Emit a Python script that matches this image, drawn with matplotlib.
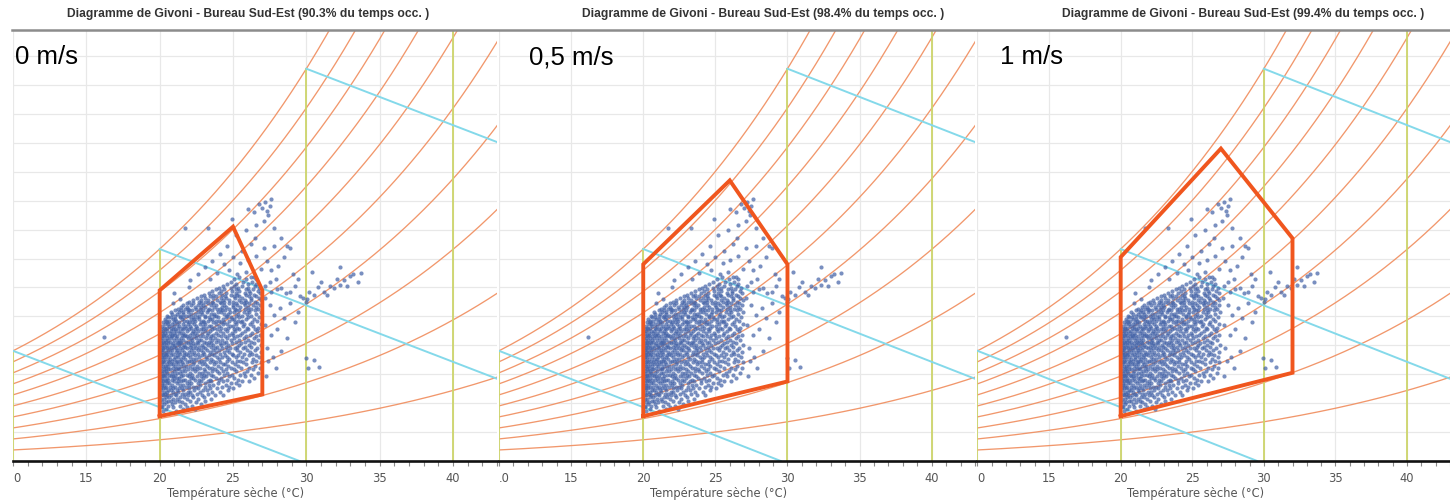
import numpy as np
import matplotlib
matplotlib.use("Agg")
import matplotlib.pyplot as plt
import matplotlib.transforms as mtransforms
from matplotlib.lines import Line2D

# ---------------------------------------------------------------- data
panel_titles = [
    "Diagramme de Givoni - Bureau Sud-Est (90.3% du temps occ. )",
    "Diagramme de Givoni - Bureau Sud-Est (98.4% du temps occ. )",
    "Diagramme de Givoni - Bureau Sud-Est (99.4% du temps occ. )",
]
speed_labels = ["0 m/s", "0,5 m/s", "1 m/s"]
x_ticks = [10, 15, 20, 25, 30, 35, 40]
x_tick_labels = [
    ["0", "15", "20", "25", "30", "35", "40"],
    [".0", "15", "20", "25", "30", "35", "40"],
    ["0", "15", "20", "25", "30", "35", "40"],
]
x_label = "Température sèche (°C)"

rh_levels = [10, 20, 30, 40, 50, 60, 70, 80, 90, 100]        # % humidité relative
dry_bulb_marks = [10, 20, 30, 40]                              # verticales jaunes (°C)
wet_bulb_starts = [10, 20, 30]                                 # départ sur la saturation (°C)
wet_bulb_slope = 0.39                                          # g/kg par °C

# zones de confort (T °C, w g/kg) pour 0 / 0,5 / 1 m/s
zone_t = [
    [20, 20, 25, 27, 27, 20],
    [20, 20, 26, 30, 30, 20],
    [20, 20, 27, 32, 32, 20],
]
zone_w = [
    [3.1, 11.8, 16.2, 11.8, 4.6, 3.1],
    [3.1, 13.6, 19.4, 13.6, 5.5, 3.1],
    [3.1, 14.1, 21.6, 15.4, 6.1, 3.1],
]

# heures d'occupation : humidité absolue (g/kg) puis températures sèches (°C)
core_rows = [
    (3.45, [20.2, 21.1]),
    (3.58, [20.45, 21.6, 22.4]),
    (3.70, [20.14, 20.9, 21.85]),
    (3.82, [20.12, 20.55, 21.38, 22.2]),
    (3.94, [20.31, 20.83, 21.71, 22.79]),
    (4.06, [20.16, 20.4, 21.05, 21.52, 22.47]),
    (4.18, [20.58, 20.74, 21.33, 22.05, 23.1]),
    (4.30, [20.1, 20.29, 20.92, 21.2, 21.86, 22.63, 23.49]),
    (4.42, [20.44, 20.66, 21.41, 21.63, 22.3, 23.05]),
    (4.54, [20.2, 20.51, 20.79, 21.1, 21.95, 22.18, 22.87, 23.76, 24.3]),
    (4.66, [20.13, 20.37, 21.02, 21.49, 21.72, 22.52, 23.31]),
    (4.78, [20.27, 20.48, 20.88, 21.25, 21.91, 22.09, 22.74, 23.58, 24.12]),
    (4.90, [20.1, 20.6, 20.75, 21.18, 21.59, 22.36, 22.98, 23.23, 24.66]),
    (5.02, [20.22, 20.34, 20.92, 21.3, 21.5, 22.03, 22.61, 23.44, 23.9, 25.03]),
    (5.14, [20.11, 20.46, 20.7, 21.07, 21.77, 22.25, 22.49, 23.12, 24.28, 24.71]),
    (5.26, [20.18, 20.3, 20.85, 21.38, 21.6, 21.99, 22.72, 23.35, 23.67, 24.49, 25.41]),
    (5.38, [20.14, 20.53, 20.67, 21.15, 21.84, 22.14, 22.58, 23.07, 23.98, 24.87, 25.2]),
    (5.50, [20.25, 20.41, 20.99, 21.27, 21.46, 22.01, 22.85, 23.27, 23.53, 24.35, 25.62, 26.08]),
    (5.62, [20.12, 20.36, 20.58, 20.82, 21.56, 21.73, 22.4, 22.66, 23.41, 24.02, 24.57, 25.35]),
    (5.74, [20.19, 20.47, 20.95, 21.18, 21.35, 22.12, 22.3, 22.94, 23.82, 24.18, 25.09, 26.44]),
    (5.86, [20.1, 20.29, 20.74, 20.88, 21.43, 21.97, 22.55, 22.79, 23.16, 23.66, 24.75, 25.81]),
    (5.98, [20.23, 20.38, 20.62, 21.07, 21.62, 21.84, 22.2, 23.03, 23.49, 24.41, 24.93, 25.5, 26.21]),
    (6.10, [20.15, 20.52, 20.83, 21.21, 21.39, 22.06, 22.67, 22.88, 23.3, 24.07, 24.6, 25.74, 26.7]),
    (6.22, [20.11, 20.31, 20.45, 20.96, 21.55, 21.76, 22.42, 23.12, 23.6, 23.89, 24.33, 25.22, 25.98]),
    (6.34, [20.27, 20.58, 20.71, 21.13, 21.32, 21.93, 22.18, 22.57, 22.99, 23.78, 24.52, 25.06, 26.35]),
    (6.46, [20.12, 20.4, 20.91, 21.28, 21.67, 22.31, 22.76, 23.38, 23.56, 24.19, 24.88, 25.57, 26.11, 26.82]),
    (6.58, [20.2, 20.35, 20.6, 21.04, 21.46, 21.8, 22.05, 22.53, 23.21, 23.99, 24.66, 25.33, 26.52]),
    (6.70, [20.1, 20.49, 20.78, 20.94, 21.24, 21.61, 22.24, 22.92, 23.09, 23.71, 24.3, 24.47, 25.14, 25.88]),
    (6.82, [20.16, 20.3, 20.66, 21.11, 21.53, 21.87, 22.37, 22.65, 23.45, 23.84, 24.1, 24.94, 25.69, 26.27, 26.9]),
    (6.94, [20.23, 20.55, 20.87, 21.2, 21.36, 21.98, 22.15, 22.81, 23.02, 23.63, 24.56, 25.28, 25.45, 26.6]),
    (7.06, [20.1, 20.39, 20.73, 20.98, 21.44, 21.71, 22.29, 22.5, 23.26, 23.5, 24.04, 24.76, 25.91, 26.36]),
    (7.18, [20.14, 20.28, 20.6, 21.03, 21.27, 21.58, 22.09, 22.7, 23.13, 23.94, 24.23, 24.62, 25.19, 25.63, 26.77]),
    (7.30, [20.21, 20.46, 20.8, 21.15, 21.64, 21.91, 22.43, 22.86, 23.37, 23.73, 24.45, 25.02, 25.37, 26.09, 26.55]),
    (7.42, [20.11, 20.33, 20.52, 20.93, 21.4, 21.78, 22.2, 22.58, 23.05, 23.56, 24.14, 24.91, 25.74, 26.3]),
    (7.54, [20.18, 20.43, 20.69, 21.08, 21.29, 21.69, 22.01, 22.33, 22.96, 23.44, 23.82, 24.36, 24.7, 25.5, 26.19, 26.88]),
    (7.66, [20.1, 20.26, 20.57, 20.85, 21.2, 21.51, 22.13, 22.62, 22.79, 23.2, 23.65, 24.03, 24.59, 25.27, 25.98, 26.47]),
    (7.78, [20.22, 20.5, 20.77, 21.12, 21.37, 21.88, 22.25, 22.47, 23.1, 23.74, 24.27, 24.82, 25.11, 25.66, 26.64]),
    (7.90, [20.13, 20.36, 20.63, 20.99, 21.57, 21.74, 22.05, 22.71, 22.94, 23.52, 23.93, 24.5, 25.3, 25.79, 26.23]),
    (8.02, [20.19, 20.41, 20.82, 21.05, 21.32, 21.63, 22.17, 22.4, 22.86, 23.29, 23.67, 24.15, 24.68, 25.43, 26.06, 26.93]),
    (8.14, [20.1, 20.28, 20.55, 20.9, 21.23, 21.47, 21.95, 22.29, 22.61, 23.16, 23.48, 24.08, 24.39, 24.95, 25.57, 26.4]),
    (8.26, [20.24, 20.46, 20.7, 21.15, 21.39, 21.81, 22.09, 22.52, 23.03, 23.35, 23.87, 24.54, 25.19, 25.84, 26.21]),
    (8.38, [20.12, 20.34, 20.6, 20.97, 21.29, 21.58, 22.22, 22.68, 22.84, 23.58, 23.99, 24.28, 24.86, 25.38, 26.03, 26.7]),
    (8.50, [20.17, 20.5, 20.76, 21.09, 21.45, 21.92, 22.14, 22.47, 23.13, 23.42, 23.78, 24.61, 25.06, 25.72, 26.45]),
    (8.62, [20.1, 20.31, 20.64, 20.86, 21.2, 21.66, 21.84, 22.34, 22.76, 22.97, 23.5, 24.17, 24.44, 25.26, 25.91, 26.58]),
    (8.74, [20.26, 20.43, 20.81, 21.03, 21.52, 21.74, 22.04, 22.56, 23.22, 23.66, 24.0, 24.73, 24.99, 25.5, 26.14, 26.86]),
    (8.86, [20.14, 20.37, 20.68, 20.95, 21.34, 21.6, 22.19, 22.42, 22.89, 23.31, 23.83, 24.34, 24.9, 25.62, 26.28]),
    (8.98, [20.21, 20.52, 20.74, 21.14, 21.42, 21.89, 22.28, 22.63, 23.07, 23.46, 24.11, 24.56, 25.17, 25.81, 26.66]),
    (9.10, [20.11, 20.33, 20.9, 21.06, 21.57, 21.97, 22.39, 22.81, 22.98, 23.6, 23.91, 24.48, 25.08, 25.43, 26.02, 26.5]),
    (9.22, [20.28, 20.47, 20.79, 21.23, 21.49, 21.78, 22.13, 22.55, 23.19, 23.72, 24.2, 24.63, 25.29, 25.96, 26.73]),
    (9.34, [20.16, 20.62, 20.96, 21.35, 21.7, 22.06, 22.48, 22.93, 23.34, 23.53, 24.07, 24.79, 25.01, 25.69, 26.36]),
    (9.46, [20.39, 20.55, 20.84, 21.17, 21.61, 21.92, 22.31, 22.72, 23.11, 23.84, 24.32, 24.58, 25.22, 25.77, 26.14, 26.89]),
    (9.58, [20.24, 20.49, 21.0, 21.31, 21.98, 22.2, 22.84, 23.03, 23.66, 24.21, 24.4, 25.12, 25.55, 26.27]),
    (9.70, [20.46, 20.67, 21.14, 21.68, 21.85, 22.44, 22.97, 23.27, 23.85, 24.03, 24.71, 25.36, 25.61, 26.61]),
    (9.82, [20.35, 20.88, 21.07, 21.53, 22.12, 22.35, 22.66, 23.43, 23.58, 24.29, 24.9, 25.1, 25.87, 26.44]),
    (9.94, [20.58, 20.79, 21.36, 21.6, 22.28, 22.54, 23.12, 23.39, 23.99, 24.55, 24.85, 25.43, 26.05, 26.8]),
    (10.06, [20.52, 21.07, 21.41, 21.8, 22.03, 22.7, 23.08, 23.69, 23.84, 24.57, 25.22, 25.63, 26.22]),
    (10.18, [20.83, 21.19, 21.61, 22.17, 22.41, 22.87, 23.5, 23.72, 24.36, 24.68, 25.32, 25.97, 26.58]),
    (10.30, [20.74, 21.32, 21.58, 21.93, 22.62, 22.81, 23.23, 23.95, 24.16, 24.79, 25.05, 25.72, 26.11, 26.93]),
    (10.42, [21.06, 21.44, 21.99, 22.22, 22.95, 23.3, 23.54, 24.25, 24.47, 25.23, 25.4, 26.0, 26.49]),
    (10.54, [21.22, 21.71, 21.93, 22.5, 22.78, 23.37, 23.93, 24.1, 24.75, 25.14, 25.81, 26.26, 26.71]),
    (10.66, [21.47, 21.84, 22.43, 22.82, 23.06, 23.68, 24.22, 24.54, 25.03, 25.5, 26.04, 26.59]),
    (10.78, [21.61, 22.14, 22.59, 22.96, 23.49, 23.81, 24.42, 24.98, 25.3, 25.82, 26.39, 26.87]),
    (10.90, [21.88, 22.3, 22.83, 23.29, 23.62, 24.2, 24.74, 25.19, 25.77, 26.09, 26.62]),
    (11.02, [22.03, 22.69, 23.07, 23.55, 24.11, 24.42, 24.98, 25.56, 25.9, 26.48]),
    (11.14, [22.29, 22.84, 23.31, 23.93, 24.35, 24.7, 25.38, 25.84, 26.24, 26.9]),
    (11.26, [22.55, 23.07, 23.64, 24.17, 24.51, 25.13, 25.62, 26.2, 26.74]),
    (11.38, [22.8, 23.46, 23.87, 24.44, 25.05, 25.41, 26.06, 26.57]),
    (11.50, [23.04, 23.61, 24.26, 24.88, 25.29, 25.91, 26.45]),
    (11.62, [23.33, 24.02, 24.5, 25.19, 25.82, 26.17, 26.84]),
    (11.74, [23.58, 24.2, 24.93, 25.42, 26.12, 26.68]),
    (11.86, [23.86, 24.41, 25.21, 25.86, 26.37]),
    (11.98, [24.07, 24.84, 25.36, 26.05, 26.77]),
    (12.10, [24.3, 25.08, 25.63, 26.48]),
    (12.25, [24.58, 25.22, 26.02, 26.6]),
    (12.40, [24.85, 25.7, 26.3]),
    (12.55, [25.1, 25.92, 26.55]),
    (12.70, [25.44, 26.2]),
]

# heures isolées (T °C, w g/kg)
sparse_points = [
    # partie haute, autour du sommet de la zone
    (21.7, 16.1), (23.3, 16.1), (24.9, 16.7), (26.0, 17.4), (26.4, 17.2),
    (26.8, 17.8), (27.0, 17.5), (27.2, 17.9), (27.35, 17.3), (27.5, 17.6),
    (27.4, 17.0), (27.6, 18.1), (27.1, 16.6), (26.6, 16.3), (25.6, 14.5),
    (26.5, 15.4), (27.1, 14.7), (27.8, 16.1), (27.8, 14.9), (28.3, 15.4),
    (28.7, 14.9), (28.9, 14.7), (25.2, 15.6), (24.6, 14.9), (24.1, 14.3),
    (23.6, 13.8), (23.1, 13.4), (25.9, 16.0), (26.2, 15.0), (24.4, 13.6),
    (25.0, 14.1), (25.5, 13.7), (26.0, 13.9), (26.6, 14.2), (23.9, 13.0),
    (24.7, 13.2), (25.3, 12.9), (25.9, 13.1), (26.4, 12.7), (26.9, 13.3),
    (22.6, 12.9), (22.1, 12.5), (23.4, 12.6), (27.3, 13.8), (27.6, 13.2),
    (28.1, 13.5), (28.5, 14.1), (27.9, 12.6), (27.5, 12.4), (27.2, 12.1),
    (21.4, 11.2), (20.9, 10.9), (21.0, 11.6), (22.0, 12.0),
    # traînée vers les températures élevées
    (27.6, 11.7), (28.0, 11.9), (28.3, 11.95), (28.6, 11.6), (28.9, 11.7),
    (29.2, 12.1), (29.4, 12.6), (29.6, 11.4), (29.8, 11.3), (30.0, 11.0),
    (30.05, 11.2), (30.2, 11.7), (30.5, 11.5), (30.8, 12.0), (31.0, 12.4),
    (31.2, 11.7), (31.4, 11.5), (31.6, 12.1), (31.9, 11.95), (32.1, 12.6),
    (32.3, 12.2), (32.3, 13.4), (32.6, 12.5), (32.8, 12.1), (33.0, 12.8),
    (33.2, 12.9), (33.5, 12.4), (33.7, 13.0), (29.1, 12.9), (30.4, 13.1),
    # à droite de la zone
    (27.5, 10.8), (27.8, 10.1), (27.6, 8.7), (28.3, 7.6), (28.7, 8.5),
    (29.2, 9.6), (29.4, 10.3), (27.4, 6.9), (27.2, 9.4), (27.3, 7.8),
    (28.0, 9.1), (28.2, 10.6), (27.9, 6.4), (27.25, 5.9), (28.5, 9.9),
    (27.7, 7.2), (29.95, 7.1), (30.5, 7.0), (30.85, 6.5), (30.1, 6.4),
    (27.15, 11.3), (28.9, 10.9),
    # isolée à gauche
    (16.2, 8.6),
]

# ---------------------------------------------------------------- style / mise en page
W_PX, H_PX = 1450, 503
PX_PER_DEG = 14.8
AX_BOTTOM_PX, AX_TOP_PX = 461, 30
W_TOP = 29.8
panel_left_px = [13, 499, 977.5]
panel_right_px = [497, 975, 1450]
title_center_px = [248, 763, 1243]
speed_left_px = [15, 529, 1000]

C_RH = "#f08c5c"
C_WB = "#84d9ea"
C_DB = "#cdd56a"
C_PTS = "#4564a8"
C_ZONE = "#f0561e"
C_GRID = "#e8e8e8"


def w_sat(t):
    es = 6.112 * np.exp(17.62 * t / (243.12 + t))
    return 622.0 * es / (1013.25 - es)


pts_t = [t for w, ts in core_rows for t in ts] + [p[0] for p in sparse_points]
pts_w = [w for w, ts in core_rows for t in ts] + [p[1] for p in sparse_points]

fig = plt.figure(figsize=(W_PX / 100, H_PX / 100), dpi=100)
fig.patch.set_facecolor("white")

t_curve = np.linspace(9.5, 44, 300)

for i in range(3):
    l, r = panel_left_px[i], panel_right_px[i]
    ax = fig.add_axes([l / W_PX, 1 - AX_BOTTOM_PX / H_PX,
                       (r - l) / W_PX, (AX_BOTTOM_PX - AX_TOP_PX) / H_PX])
    ax.set_xlim(10, 10 + (r - l) / PX_PER_DEG)
    ax.set_ylim(0, W_TOP)

    # grille
    ax.set_yticks(np.arange(2, 30, 2))
    ax.set_xticks(x_ticks)
    ax.set_xticks(np.arange(10, 44, 1), minor=True)
    ax.grid(True, which="major", color=C_GRID, lw=0.9, zorder=0)
    ax.set_axisbelow(True)
    ax.tick_params(axis="y", length=0, labelleft=False)
    ax.tick_params(axis="x", which="both", direction="out", length=3.5,
                   width=0.8, color="#8a8a8a", pad=4.5,
                   labelsize=8.3, labelcolor="#555555")
    ax.set_xticklabels(x_tick_labels[i])
    ax.get_xticklabels()[0].set_horizontalalignment("left")
    for side in ("left", "right", "top"):
        ax.spines[side].set_visible(False)
    ax.spines["bottom"].set_color("#111111")
    ax.spines["bottom"].set_linewidth(1.9)

    # courbes d'humidité relative
    ws = w_sat(t_curve)
    for rh in rh_levels:
        ax.plot(t_curve, ws * rh / 100.0, color=C_RH, lw=0.95, alpha=0.9, zorder=1)

    # verticales de température sèche
    for tdb in dry_bulb_marks:
        ax.plot([tdb, tdb], [0, min(w_sat(tdb), W_TOP)], color=C_DB, lw=1.3, zorder=2)

    # droites de température humide
    for t0 in wet_bulb_starts:
        tt = np.linspace(t0, 44, 50)
        ww = w_sat(t0) - wet_bulb_slope * (tt - t0)
        keep = ww >= 0
        tt, ww = tt[keep], ww[keep]
        t_end = t0 + w_sat(t0) / wet_bulb_slope
        if t_end < 44:
            tt = np.append(tt, t_end)
            ww = np.append(ww, 0)
        ax.plot(tt, ww, color=C_WB, lw=1.4, zorder=2)

    # heures d'occupation
    ax.scatter(pts_t, pts_w, s=9, color=C_PTS, lw=0, alpha=0.72, zorder=3)

    # zone de confort
    ax.plot(zone_t[i], zone_w[i], color=C_ZONE, lw=2.8,
            solid_joinstyle="miter", zorder=4)

    # libellé de l'axe
    trans = mtransforms.blended_transform_factory(ax.transData, fig.transFigure)
    ax.text(25.2, 1 - 493 / H_PX, x_label, transform=trans, ha="center",
            va="center", fontsize=8.3, color="#555555")

    # titre et vitesse d'air
    fig.text(title_center_px[i] / W_PX, 1 - 14 / H_PX, panel_titles[i],
             ha="center", va="center", fontsize=8.7, fontweight="bold",
             color="#333333", family="Liberation Sans")
    fig.text(speed_left_px[i] / W_PX, 1 - 57 / H_PX, speed_labels[i],
             ha="left", va="center", fontsize=18.5, color="black",
             family="Liberation Sans")

# filet sous les titres
fig.add_artist(Line2D([12 / W_PX, 1], [1 - 30 / H_PX] * 2,
                      color="#8c8c8c", lw=1.8))

fig.savefig("out.png", dpi=100, facecolor="white")
